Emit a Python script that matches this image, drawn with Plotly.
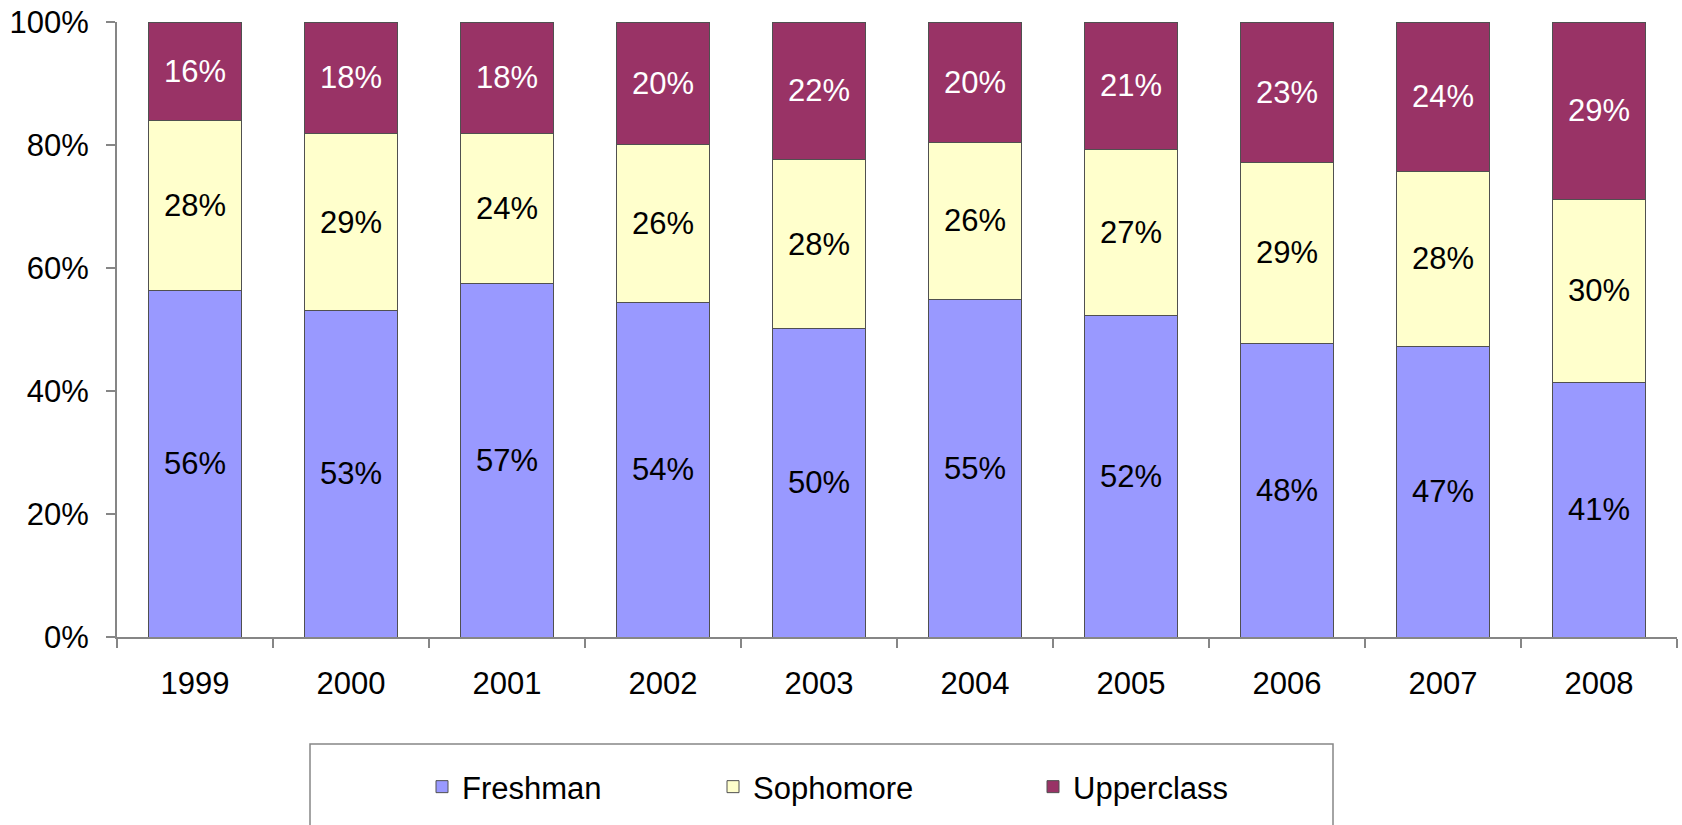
import plotly.graph_objects as go

years = ["1999", "2000", "2001", "2002", "2003", "2004", "2005", "2006", "2007", "2008"]
freshman = [56.4, 53.1, 57.4, 54.4, 50.1, 54.9, 52.2, 47.8, 47.3, 41.4]
sophomore = [27.6, 28.7, 24.4, 25.7, 27.6, 25.5, 27.0, 29.3, 28.4, 29.8]
upperclass = [16.0, 18.2, 18.2, 19.9, 22.3, 19.6, 20.8, 22.9, 24.3, 28.8]
y_ticks = [0, 20, 40, 60, 80, 100]
y_tick_labels = ["0%", "20%", "40%", "60%", "80%", "100%"]

FONT = "Liberation Sans, Arial, sans-serif"
FS = 31
series = [
    ("Freshman", freshman, "#9999FF", "black", "legend"),
    ("Sophomore", sophomore, "#FFFFCC", "black", "legend2"),
    ("Upperclass", upperclass, "#993366", "white", "legend3"),
]

W, H = 1682, 825
PLOT_L, PLOT_R, PLOT_T, PLOT_B = 117, 1677, 22, 637
L = PLOT_L
R = W - PLOT_R
T = PLOT_T
B = H - PLOT_B
pw = PLOT_R - PLOT_L
ph = PLOT_B - PLOT_T


def px(x):
    return (x - PLOT_L) / pw


def py(y):
    return (PLOT_B - y) / ph


fig = go.Figure()
for name, vals, color, tcolor, leg in series:
    fig.add_trace(go.Bar(
        x=years, y=vals, name=name, legend=leg, showlegend=True,
        marker=dict(color=color, line=dict(color="#505050", width=1)),
        texttemplate="%{y:.0f}%", textposition="inside",
        insidetextanchor="middle", constraintext="none",
        textfont=dict(family=FONT, size=FS, color=tcolor),
    ))

leg_common = dict(orientation="h", xanchor="left", yanchor="middle", y=py(787),
                  font=dict(family=FONT, size=FS, color="black"),
                  bgcolor="rgba(0,0,0,0)", borderwidth=0, visible=True)

fig.update_layout(
    width=W, height=H, showlegend=True,
    barmode="stack", bargap=0.41,
    plot_bgcolor="white", paper_bgcolor="white",
    margin=dict(l=L, r=R, t=T, b=B, pad=0),
    font=dict(family=FONT, size=FS, color="black"),
    xaxis=dict(
        showline=True, linecolor="#868686", linewidth=2,
        ticks="outside", tickson="boundaries", ticklen=9, tickwidth=2, tickcolor="#868686",
        ticklabelstandoff=18, tickfont=dict(size=FS), showgrid=False, automargin=False,
    ),
    yaxis=dict(
        range=[0, 100], tickmode="array", tickvals=y_ticks, ticktext=y_tick_labels,
        showline=True, linecolor="#868686", linewidth=2,
        ticks="outside", ticklen=9, tickwidth=2, tickcolor="#868686",
        ticklabelstandoff=11, tickfont=dict(size=FS), showgrid=False, zeroline=False,
        automargin=False, ticklabeloverflow="allow",
    ),
    legend=dict(x=px(422), **leg_common),
    legend2=dict(x=px(713), **leg_common),
    legend3=dict(x=px(1033), **leg_common),
    shapes=[dict(
        type="rect", xref="paper", yref="paper",
        x0=px(310), x1=px(1333), y0=py(900), y1=py(744),
        line=dict(color="#868686", width=1.5), fillcolor="rgba(0,0,0,0)", layer="below",
    )],
)

fig.write_html(
    "out.html",
    config={"displayModeBar": False},
    post_script="document.body.style.margin='0';document.body.style.overflow='hidden';",
)
